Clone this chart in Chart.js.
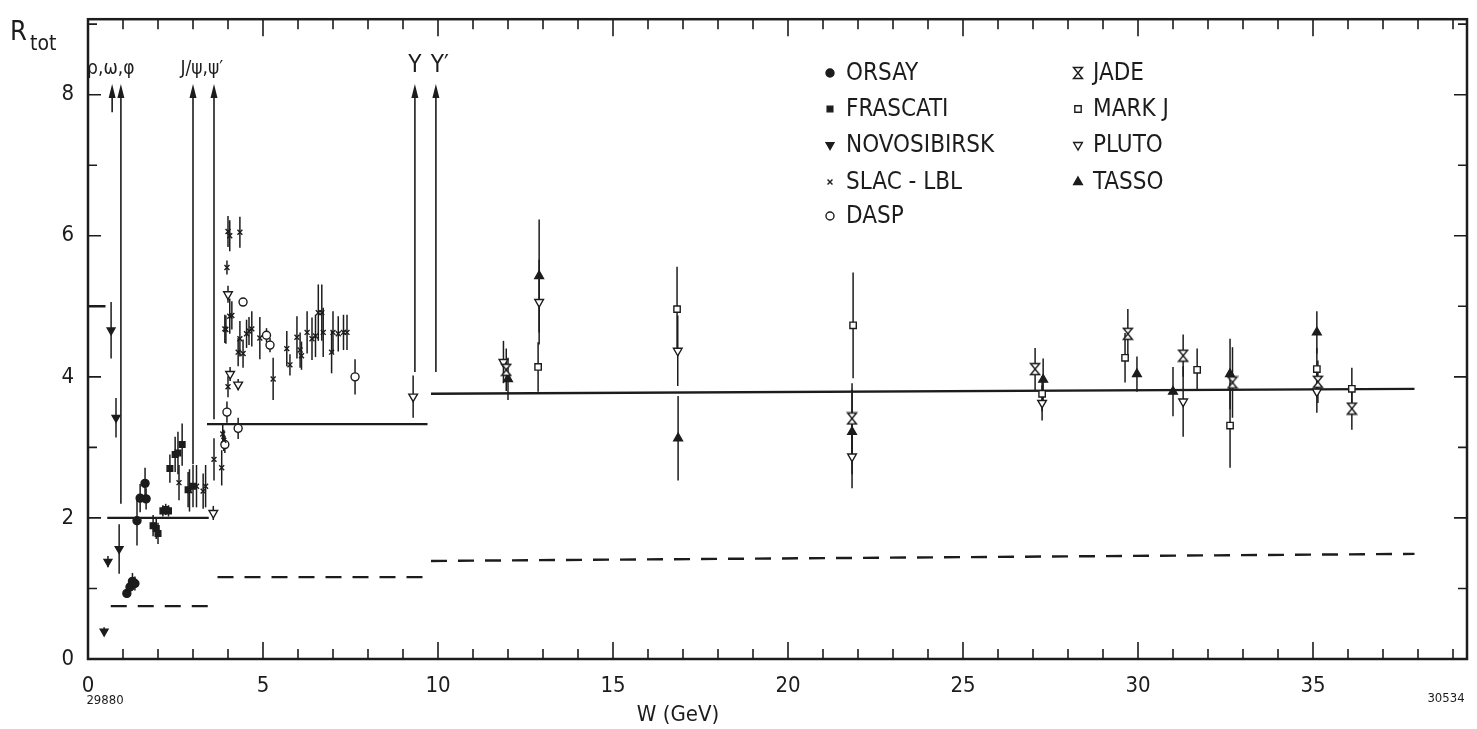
<!DOCTYPE html>
<html>
<head>
<meta charset="utf-8">
<script src="https://cdn.jsdelivr.net/npm/chart.js@4.4.1/dist/chart.umd.min.js"></script>
<style>
  html, body { margin: 0; padding: 0; background: #fff; }
  #wrap { width: 1477px; height: 729px; }
</style>
</head>
<body>
<div id="wrap"><canvas id="rChart" width="1477" height="729"></canvas></div>
<script>
const novoW = [0.46, 0.57, 0.66, 0.80, 0.89];
const novoR = [0.39, 1.38, 4.66, 3.42, 1.56];
const novoE = [0.06, 0.08, 0.40, 0.28, 0.35];

const orsayW = [1.11, 1.20, 1.27, 1.34, 1.40, 1.49, 1.63, 1.66];
const orsayR = [0.93, 1.02, 1.10, 1.07, 1.96, 2.28, 2.49, 2.27];
const orsayE = [0.06, 0.10, 0.12, 0.10, 0.35, 0.20, 0.22, 0.15];

const frascatiW = [1.86, 1.95, 2.00, 2.14, 2.22, 2.30, 2.34, 2.49, 2.57, 2.69, 2.86, 3.00];
const frascatiR = [1.89, 1.85, 1.78, 2.10, 2.12, 2.10, 2.70, 2.90, 2.92, 3.04, 2.40, 2.45];
const frascatiE = [0.15, 0.15, 0.15, 0.08, 0.08, 0.08, 0.20, 0.25, 0.30, 0.30, 0.25, 0.30];

const slacW = [2.60, 2.90, 3.10, 3.29, 3.36, 3.60, 3.82, 3.85, 3.88, 3.91, 3.94, 3.97, 4.00, 4.05, 4.34,
  4.00, 4.05, 4.11, 4.29, 4.34, 4.43, 4.53, 4.60, 4.68, 4.91, 5.29, 5.68, 5.77, 5.97, 6.06, 6.10,
  6.26, 6.40, 6.50, 6.58, 6.68, 6.72, 6.96, 7.00, 7.15, 7.30, 7.40];
const slacR = [2.50, 2.39, 2.45, 2.38, 2.45, 2.83, 2.71, 3.19, 3.10, 4.68, 4.67, 5.55, 6.06, 6.00, 6.05,
  3.86, 4.86, 4.87, 4.35, 4.54, 4.33, 4.61, 4.65, 4.68, 4.55, 3.97, 4.40, 4.17, 4.56, 4.38, 4.30,
  4.63, 4.54, 4.58, 4.91, 4.91, 4.63, 4.35, 4.63, 4.61, 4.63, 4.63];
const slacE = [0.25, 0.30, 0.30, 0.25, 0.30, 0.30, 0.25, 0.15, 0.15, 0.20, 0.20, 0.10, 0.22, 0.22, 0.22,
  0.15, 0.25, 0.20, 0.20, 0.25, 0.20, 0.20, 0.20, 0.25, 0.30, 0.30, 0.25, 0.15, 0.30, 0.25, 0.20,
  0.30, 0.30, 0.30, 0.40, 0.40, 0.35, 0.30, 0.30, 0.25, 0.25, 0.25];

const daspW = [3.91, 3.97, 4.29, 4.43, 5.10, 5.20, 7.63];
const daspR = [3.04, 3.50, 3.27, 5.06, 4.59, 4.45, 4.00];
const daspE = [0.12, 0.15, 0.15, 0.05, 0.10, 0.10, 0.25];

const jadeW = [11.95, 21.83, 27.06, 29.71, 31.29, 32.70, 35.14, 36.11];
const jadeR = [4.10, 3.41, 4.11, 4.61, 4.30, 3.92, 3.93, 3.55];
const jadeE = [0.30, 0.50, 0.30, 0.35, 0.30, 0.50, 0.30, 0.30];

const markjW = [12.86, 16.83, 21.86, 27.26, 29.63, 31.69, 32.63, 35.11, 36.11];
const markjR = [4.14, 4.96, 4.73, 3.76, 4.27, 4.10, 3.31, 4.11, 3.83];
const markjE = [0.35, 0.60, 0.75, 0.25, 0.35, 0.30, 0.60, 0.30, 0.30];

const plutoW = [3.58, 4.00, 4.06, 4.29, 9.29, 11.87, 12.89, 16.85, 21.83, 27.26, 31.29, 35.11];
const plutoR = [2.07, 5.17, 4.04, 3.89, 3.72, 4.21, 5.06, 4.37, 2.87, 3.63, 3.65, 3.79];
const plutoE = [0.10, 0.12, 0.10, 0.08, 0.30, 0.30, 0.60, 0.50, 0.45, 0.25, 0.50, 0.30];

const tassoW = [12.00, 12.89, 16.86, 21.83, 27.29, 29.97, 31.00, 32.63, 35.11];
const tassoR = [3.97, 5.43, 3.13, 3.22, 3.96, 4.04, 3.79, 4.04, 4.63];
const tassoE = [0.30, 0.80, 0.60, 0.60, 0.30, 0.25, 0.35, 0.50, 0.30];

// model predictions: [wStart, wEnd, rStart, rEnd]
const modelSolid = [[0.0, 0.50, 5.00, 5.00], [0.55, 3.45, 2.00, 2.00], [3.40, 9.70, 3.33, 3.33], [9.80, 37.9, 3.76, 3.83]];
const modelDashed = [[0.65, 3.70, 0.75, 0.75], [3.70, 9.60, 1.16, 1.16], [9.80, 37.9, 1.39, 1.49]];

// resonance arrows: W position, lower end of the line
const resonanceW = [0.69, 0.94, 3.00, 3.60, 9.34, 9.94];
const resonanceLow = [7.75, 2.20, 2.76, 3.40, 4.07, 4.07];
const arrowTop = 8.15;

const ink = '#1c1c1c';
const font = "'DejaVu Sans Condensed', 'Liberation Sans Narrow', 'DejaVu Sans', sans-serif";

function points(ws, rs, es) {
  return ws.map((w, i) => ({ x: w, y: rs[i], e: es[i] }));
}

// hourglass marker for JADE
const hourglass = document.createElement('canvas');
hourglass.width = 12; hourglass.height = 14;
(function () {
  const c = hourglass.getContext('2d');
  c.strokeStyle = ink; c.fillStyle = '#fff'; c.lineWidth = 1.5;
  c.beginPath();
  c.moveTo(1.5, 1.5); c.lineTo(10.5, 1.5); c.lineTo(1.5, 12.5); c.lineTo(10.5, 12.5); c.closePath();
  c.fill(); c.stroke();
})();

const experiments = [
  { label: 'ORSAY', data: points(orsayW, orsayR, orsayE), pointStyle: 'circle', pointRadius: 4, backgroundColor: ink },
  { label: 'FRASCATI', data: points(frascatiW, frascatiR, frascatiE), pointStyle: 'rect', pointRadius: 4, backgroundColor: ink },
  { label: 'NOVOSIBIRSK', data: points(novoW, novoR, novoE), pointStyle: 'triangle', rotation: 180, pointRadius: 4.5, backgroundColor: ink },
  { label: 'SLAC - LBL', data: points(slacW, slacR, slacE), pointStyle: 'crossRot', pointRadius: 3.5, backgroundColor: ink },
  { label: 'DASP', data: points(daspW, daspR, daspE), pointStyle: 'circle', pointRadius: 4, backgroundColor: '#fff' },
  { label: 'JADE', data: points(jadeW, jadeR, jadeE), pointStyle: hourglass, pointRadius: 5, backgroundColor: '#fff' },
  { label: 'MARK J', data: points(markjW, markjR, markjE), pointStyle: 'rect', pointRadius: 4.5, backgroundColor: '#fff' },
  { label: 'PLUTO', data: points(plutoW, plutoR, plutoE), pointStyle: 'triangle', rotation: 180, pointRadius: 5, backgroundColor: '#fff' },
  { label: 'TASSO', data: points(tassoW, tassoR, tassoE), pointStyle: 'triangle', pointRadius: 5, backgroundColor: ink }
].map(d => Object.assign(d, {
  borderColor: ink, borderWidth: 1.4, errorBars: true, showLine: false,
  pointBackgroundColor: d.backgroundColor, pointRotation: d.rotation || 0
}));

const modelLines = [];
modelSolid.forEach(s => modelLines.push({
  label: '', data: [{ x: s[0], y: s[2] }, { x: s[1], y: s[3] }], showLine: true,
  borderColor: ink, borderWidth: 2.4, pointRadius: 0
}));
modelDashed.forEach(s => modelLines.push({
  label: '', data: [{ x: s[0], y: s[2] }, { x: s[1], y: s[3] }], showLine: true,
  borderColor: ink, borderWidth: 2.4, borderDash: [16, 11], pointRadius: 0
}));

const errorBars = {
  id: 'errorBars',
  beforeDatasetsDraw(chart) {
    const { ctx, scales: { x, y } } = chart;
    ctx.save();
    ctx.strokeStyle = ink;
    ctx.lineWidth = 1.5;
    chart.data.datasets.forEach(ds => {
      if (!ds.errorBars) return;
      ds.data.forEach(p => {
        const px = x.getPixelForValue(p.x);
        ctx.beginPath();
        ctx.moveTo(px, y.getPixelForValue(p.y - p.e));
        ctx.lineTo(px, y.getPixelForValue(p.y + p.e));
        ctx.stroke();
      });
    });
    ctx.restore();
  }
};

const arrows = {
  id: 'arrows',
  beforeDatasetsDraw(chart) {
    const { ctx, scales: { x, y } } = chart;
    ctx.save();
    ctx.strokeStyle = ink;
    ctx.fillStyle = ink;
    ctx.lineWidth = 1.6;
    const tip = y.getPixelForValue(arrowTop);
    resonanceW.forEach((w, i) => {
      const px = x.getPixelForValue(w);
      ctx.beginPath();
      ctx.moveTo(px, tip + 4);
      ctx.lineTo(px, y.getPixelForValue(resonanceLow[i]));
      ctx.stroke();
      ctx.beginPath();
      ctx.moveTo(px, tip);
      ctx.lineTo(px - 3.5, tip + 14);
      ctx.lineTo(px + 3.5, tip + 14);
      ctx.closePath();
      ctx.fill();
    });
    ctx.font = '19px ' + font;
    ctx.textBaseline = 'alphabetic';
    ctx.textAlign = 'center';
    ctx.fillText('\u03c1,\u03c9,\u03c6', x.getPixelForValue(0.65), 74);
    ctx.fillText('J/\u03c8,\u03c8\u2032', x.getPixelForValue(3.25), 74);
    ctx.font = '24px ' + font;
    ctx.fillText('\u03a5', x.getPixelForValue(9.34), 72);
    ctx.fillText('\u03a5\u2032', x.getPixelForValue(10.05), 72);
    ctx.restore();
  }
};

const frame = {
  id: 'frame',
  afterDraw(chart) {
    const { ctx, chartArea: a, scales: { x, y } } = chart;
    ctx.save();
    ctx.strokeStyle = ink;
    ctx.lineWidth = 2.5;
    ctx.strokeRect(a.left, a.top, a.right - a.left, a.bottom - a.top);
    ctx.lineWidth = 1.6;
    ctx.beginPath();
    for (let w = 1; w <= 39; w++) {
      const px = x.getPixelForValue(w);
      const len = w % 5 === 0 ? 17 : 10;
      ctx.moveTo(px, a.bottom); ctx.lineTo(px, a.bottom - len);
      ctx.moveTo(px, a.top); ctx.lineTo(px, a.top + len);
    }
    for (let r = 1; r <= 9; r++) {
      const py = y.getPixelForValue(r);
      const len = r % 2 === 0 ? 13 : 9;
      ctx.moveTo(a.left, py); ctx.lineTo(a.left + len, py);
      ctx.moveTo(a.right, py); ctx.lineTo(a.right - len, py);
    }
    ctx.stroke();

    // axis titles and plate numbers
    ctx.fillStyle = ink;
    ctx.textAlign = 'left';
    ctx.textBaseline = 'alphabetic';
    ctx.font = '27px ' + font;
    ctx.fillText('R', 10, 40);
    ctx.font = '21px ' + font;
    ctx.fillText('tot', 30, 50);
    ctx.textAlign = 'center';
    ctx.font = '22px ' + font;
    ctx.fillText('W (GeV)', 678, 721);
    ctx.font = '13px ' + font;
    ctx.fillText('29880', 105, 704);
    ctx.fillText('30534', 1446, 702);

    // legend
    const cols = [{ mx: 830, tx: 846 }, { mx: 1078, tx: 1093 }];
    const rows = [73, 109, 145, 182, 216];
    ctx.font = '24px ' + font;
    ctx.textAlign = 'left';
    ctx.textBaseline = 'middle';
    chart.data.datasets.filter(d => d.errorBars).forEach((d, i) => {
      const c = cols[i < 5 ? 0 : 1];
      const ry = rows[i < 5 ? i : i - 5];
      ctx.save();
      ctx.fillStyle = d.backgroundColor;
      ctx.strokeStyle = ink;
      ctx.lineWidth = 1.4;
      Chart.helpers.drawPoint(ctx, {
        pointStyle: d.pointStyle, rotation: d.rotation || 0,
        radius: d.pointRadius, borderWidth: 1.4
      }, c.mx, ry);
      ctx.restore();
      ctx.fillText(d.label, c.tx, ry + 1);
    });
    ctx.restore();
  }
};

const ctx = document.getElementById('rChart').getContext('2d');
const rChart = new Chart(ctx, {
  type: 'scatter',
  data: { datasets: experiments.concat(modelLines) },
  options: {
    responsive: false,
    animation: false,
    devicePixelRatio: 1,
    layout: { padding: { top: 15, right: 10, bottom: 0, left: 0 } },
    plugins: { legend: { display: false }, tooltip: { enabled: false } },
    scales: {
      x: {
        type: 'linear', min: 0, max: 39.4,
        grid: { display: false }, border: { display: false },
        ticks: { stepSize: 5, includeBounds: false, maxRotation: 0, autoSkip: false,
          color: ink, padding: 6, font: { family: font, size: 22 } },
        afterFit: s => { s.height = 70; }
      },
      y: {
        type: 'linear', min: 0, max: 9.07,
        grid: { display: false }, border: { display: false },
        ticks: { stepSize: 2, includeBounds: false, color: ink, padding: 6,
          font: { family: font, size: 22 } },
        afterFit: s => { s.width = 88; }
      }
    }
  },
  plugins: [errorBars, arrows, frame]
});
</script>
</body>
</html>
